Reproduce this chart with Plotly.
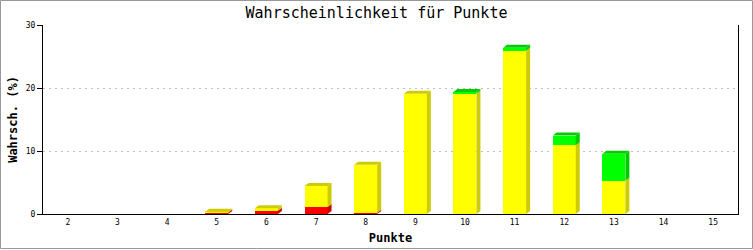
import plotly.graph_objects as go

punkte = [2, 3, 4, 5, 6, 7, 8, 9, 10, 11, 12, 13, 14, 15]
rot = [0, 0, 0, 0.25, 0.5, 1.1, 0.2, 0, 0, 0, 0, 0, 0, 0]
gelb = [0, 0, 0, 0.1, 0.4, 3.35, 7.6, 19.1, 19.1, 25.9, 10.9, 5.28, 0, 0]
gruen = [0, 0, 0, 0, 0, 0, 0, 0, 0.25, 0.5, 1.55, 4.3, 0, 0]
y_ticks = [0, 10, 20, 30]

series = [
    ("rot", rot, "#ff0000", "#cc0000"),
    ("gelb", gelb, "#ffff00", "#cccc00"),
    ("gruen", gruen, "#00ff00", "#00cc00"),
]

W, H = 753, 250
ML, MR, MT, MB = 43, 15, 25, 36
plot_w = W - ML - MR
plot_h = H - MT - MB
x_range = [punkte[0] - 0.5, punkte[-1] + 0.5]
y_range = [0, 30]
px_x = plot_w / (x_range[1] - x_range[0])
px_y = plot_h / (y_range[1] - y_range[0])
bar_w = 23 / px_x
dx = 4 / px_x
dy = 3 / px_y

fig = go.Figure()
for name, vals, col, _ in series:
    fig.add_trace(go.Bar(x=punkte, y=vals, name=name, width=bar_w,
                         marker=dict(color=col, line=dict(width=0)),
                         showlegend=False, hoverinfo="skip"))

shapes = []
for i, x in enumerate(punkte):
    base = 0.0
    top_dark = None
    xl, xr = x - bar_w / 2, x + bar_w / 2
    for name, vals, col, dark in series:
        v = vals[i]
        if v <= 0:
            continue
        y0, y1 = base, base + v
        path = (f"M {xr},{y0} L {xr+dx},{y0+dy} L {xr+dx},{y1+dy} L {xr},{y1} Z")
        shapes.append(dict(type="path", path=path, xref="x", yref="y",
                           fillcolor=dark, line=dict(width=0), layer="above"))
        base = y1
        top_dark = dark
    if top_dark is not None:
        path = (f"M {xl},{base} L {xl+dx},{base+dy} L {xr+dx},{base+dy} L {xr},{base} Z")
        shapes.append(dict(type="path", path=path, xref="x", yref="y",
                           fillcolor=top_dark, line=dict(width=0), layer="above"))

# outer frame
shapes.append(dict(type="rect", xref="paper", yref="paper",
                   x0=-(ML - 0.5) / plot_w, x1=1 + (MR - 0.5) / plot_w,
                   y0=-(MB - 1.5) / plot_h, y1=1 + (MT - 0.5) / plot_h,
                   line=dict(color="#999999", width=1), fillcolor="rgba(0,0,0,0)",
                   layer="below"))

mono = "DejaVu Sans Mono"
fig.update_layout(
    width=W, height=H,
    margin=dict(l=ML, r=MR, t=MT, b=MB),
    paper_bgcolor="white", plot_bgcolor="white",
    barmode="stack", bargap=0,
    shapes=shapes,
    title=dict(text="Wahrscheinlichkeit für Punkte", x=0.5, xref="container",
               y=1 - 13 / H, yref="container", yanchor="middle", xanchor="center",
               font=dict(family=mono, size=15, color="black")),
    xaxis=dict(range=x_range, tickmode="array", tickvals=punkte, automargin=False,
               ticktext=[str(p) for p in punkte], showgrid=False, zeroline=False,
               showline=True, linecolor="black", linewidth=1, ticks="",
               tickfont=dict(family=mono, size=8, color="black"),
               title=dict(text="<b>Punkte</b>", standoff=8,
                          font=dict(family=mono, size=12, color="black"))),
    yaxis=dict(range=y_range, tickmode="array", tickvals=y_ticks, automargin=False,
               showgrid=True, gridcolor="#c0c0c0", griddash="2px,4px", gridwidth=1,
               zeroline=False, showline=True, mirror=True, linecolor="black",
               linewidth=1, ticks="outside", ticklen=5, tickcolor="black",
               tickfont=dict(family=mono, size=8, color="black"),
               title=dict(text="<b>Wahrsch. (%)</b>", standoff=5,
                          font=dict(family=mono, size=12, color="black"))),
)
fig.write_html("out.html")
